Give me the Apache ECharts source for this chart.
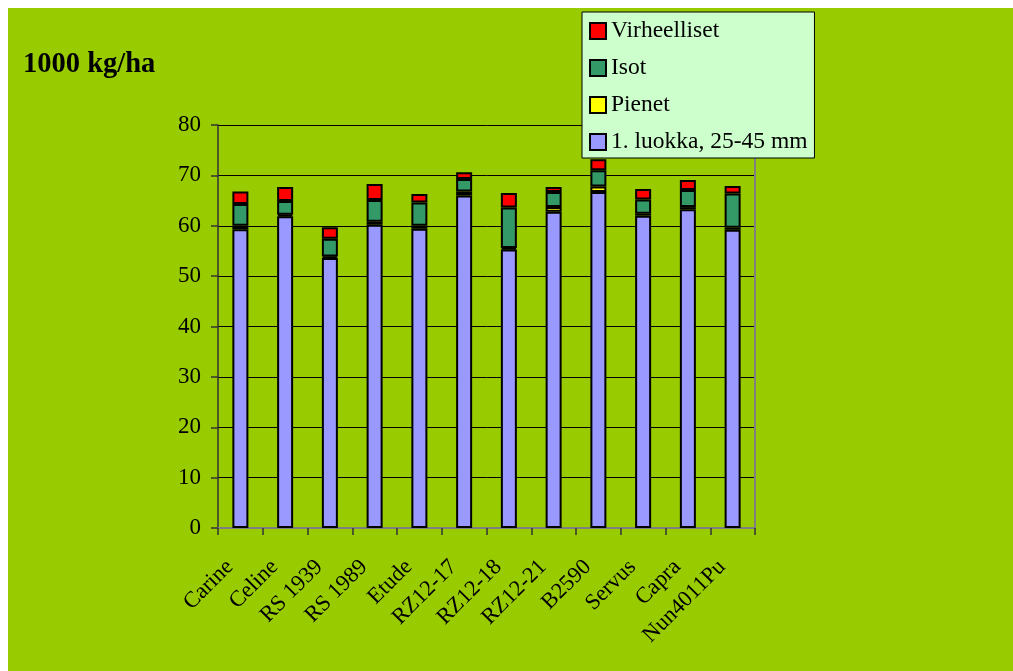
<!DOCTYPE html>
<html>
<head>
<meta charset="utf-8">
<script src="https://cdn.jsdelivr.net/npm/echarts@6/dist/echarts.min.js"></script>
<style>
html,body{margin:0;padding:0;background:#ffffff;width:1013px;height:671px;overflow:hidden;}
#chart{position:absolute;left:8px;top:8px;width:1005px;height:663px;}
</style>
</head>
<body>
<div id="chart"></div>
<script>
var categories = ['Carine','Celine','RS 1939','RS 1989','Etude','RZ12-17','RZ12-18','RZ12-21','B2590','Servus','Capra','Nun4011Pu'];
var luokka1 = [59.3, 61.9, 53.6, 60.2, 59.4, 66.0, 55.3, 62.8, 66.7, 62.0, 63.3, 59.2];
var pienet = [0.7, 0.3, 0.3, 0.6, 0.6, 0.8, 0.3, 0.9, 1.1, 0.4, 0.4, 0.4];
var isot = [4.3, 2.7, 3.5, 4.3, 4.6, 2.5, 8.0, 3.0, 3.2, 2.8, 3.4, 6.8];
var virheelliset = [2.5, 2.8, 2.3, 3.2, 1.7, 1.3, 2.9, 1.0, 2.2, 2.1, 2.0, 1.5];
var yTicks = [0, 10, 20, 30, 40, 50, 60, 70, 80];

var FONT = "'Liberation Serif','Times New Roman',serif";
var chart = echarts.init(document.getElementById('chart'));

function bar(name, data, color) {
  return {
    name: name, type: 'bar', stack: 'total', data: data,
    barWidth: 16, xAxisIndex: 0, yAxisIndex: 0,
    itemStyle: {color: color, borderColor: '#000000', borderWidth: 2},
    emphasis: {disabled: true}
  };
}

chart.setOption({
  animation: false,
  backgroundColor: '#99CC00',
  textStyle: {fontFamily: FONT},
  graphic: [{
    type: 'text', left: 15, top: 42,
    style: {text: '1000 kg/ha', font: 'bold 28.5px ' + FONT, fill: '#000'}
  }],
  legend: {
    orient: 'vertical', left: 574, top: 4,
    padding: [7, 7, 4, 7],
    backgroundColor: '#CCFFCC', borderColor: '#000000', borderWidth: 1,
    itemWidth: 16, itemHeight: 16, itemGap: 13, itemTextGap: 6,
    icon: 'rect',
    itemStyle: {borderColor: '#000', borderWidth: 2},
    textStyle: {fontFamily: FONT, fontSize: 23.5, color: '#000', lineHeight: 23},
    data: ['Virheelliset', 'Isot', 'Pienet', '1. luokka, 25-45 mm']
  },
  grid: {left: 210, top: 117, right: 258, bottom: 143, containLabel: false},
  xAxis: [{
    type: 'category', data: categories, boundaryGap: true,
    axisLine: {lineStyle: {color: '#333333', width: 1.5}},
    axisTick: {show: true, alignWithLabel: false, length: 7, lineStyle: {color: '#333333', width: 1.5}},
    axisLabel: {rotate: 45, margin: 25, padding: [0, 15, 0, 0], interval: 0, fontFamily: FONT, fontSize: 22.5, color: '#000'}
  }, {
    type: 'category', data: categories, position: 'top',
    axisLine: {lineStyle: {color: '#808080', width: 2}},
    axisTick: {show: false}, axisLabel: {show: false}
  }],
  yAxis: [{
    type: 'value', min: yTicks[0], max: yTicks[yTicks.length - 1], interval: 10,
    axisLine: {show: true, lineStyle: {color: '#333333', width: 1.5}},
    axisTick: {show: true, length: 7, lineStyle: {color: '#333333', width: 1.5}},
    axisLabel: {margin: 17, fontFamily: FONT, fontSize: 23, color: '#000'},
    splitLine: {show: true, lineStyle: {color: '#000000', width: 1}}
  }, {
    type: 'value', min: yTicks[0], max: yTicks[yTicks.length - 1], interval: 10, position: 'right',
    axisLine: {show: true, lineStyle: {color: '#808080', width: 2}},
    axisTick: {show: false}, axisLabel: {show: false}, splitLine: {show: false}
  }],
  series: [
    bar('1. luokka, 25-45 mm', luokka1, '#9999FF'),
    bar('Pienet', pienet, '#FFFF00'),
    bar('Isot', isot, '#339966'),
    bar('Virheelliset', virheelliset, '#FF0000')
  ]
});
</script>
</body>
</html>
